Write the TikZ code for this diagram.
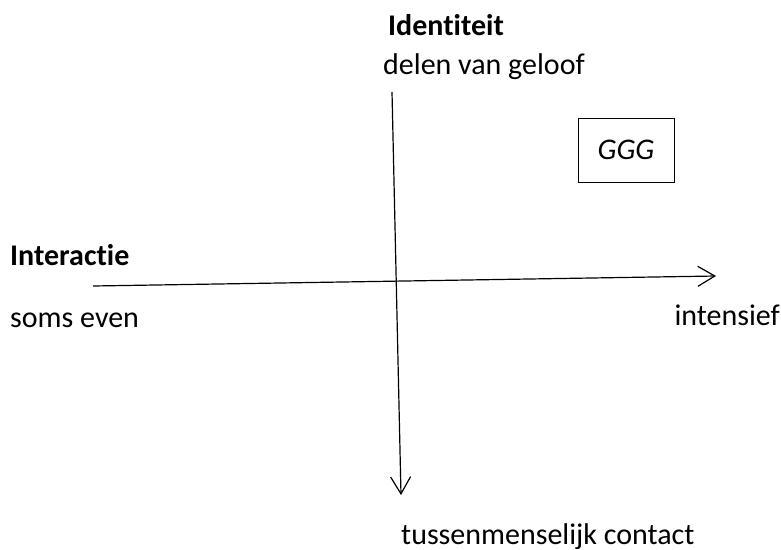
\documentclass[tikz,border=0pt]{standalone}
\usepackage{fontspec}
\setmainfont{Carlito}[Ligatures={NoCommon}]
\usetikzlibrary{arrows.meta}
\begin{document}
\begin{tikzpicture}[x=1pt,y=-1pt,
  lbl/.style={anchor=west,inner sep=0pt,font=\fontsize{30}{34}\selectfont},
  axis/.style={line width=1.2pt,-{Straight Barb[length=17pt,width=20pt,line width=1.2pt]}},
  gbox/.style={draw,line width=1pt,minimum width=96pt,minimum height=64pt,inner sep=0pt,font=\fontsize{30}{34}\selectfont\itshape}]
\useasboundingbox (0,0) rectangle (781,549);
\node[lbl,font=\fontsize{30}{34}\selectfont\bfseries] (idt) at (388,25) {Identiteit};
\node[lbl] (dvg) at (383,67) {delen van geloof};
\node[gbox] (ggg) at (626,150) {GGG};
\node[lbl,font=\fontsize{30}{34}\selectfont\bfseries] (int) at (10,255) {Interactie};
\node[lbl] (se) at (10,320) {soms even};
\node[lbl,anchor=east] (ins) at (780,315) {intensief};
\node[lbl] (tc) at (401,537) {tussenmenselijk contact};
\coordinate (vtop) at (392,92);
\coordinate (vbot) at (401,495);
\coordinate (hl) at (93,286);
\coordinate (hr) at (716,276);
\draw[axis] (vtop) -- (vbot);
\draw[axis] (hl) -- (hr);
\end{tikzpicture}
\end{document}
